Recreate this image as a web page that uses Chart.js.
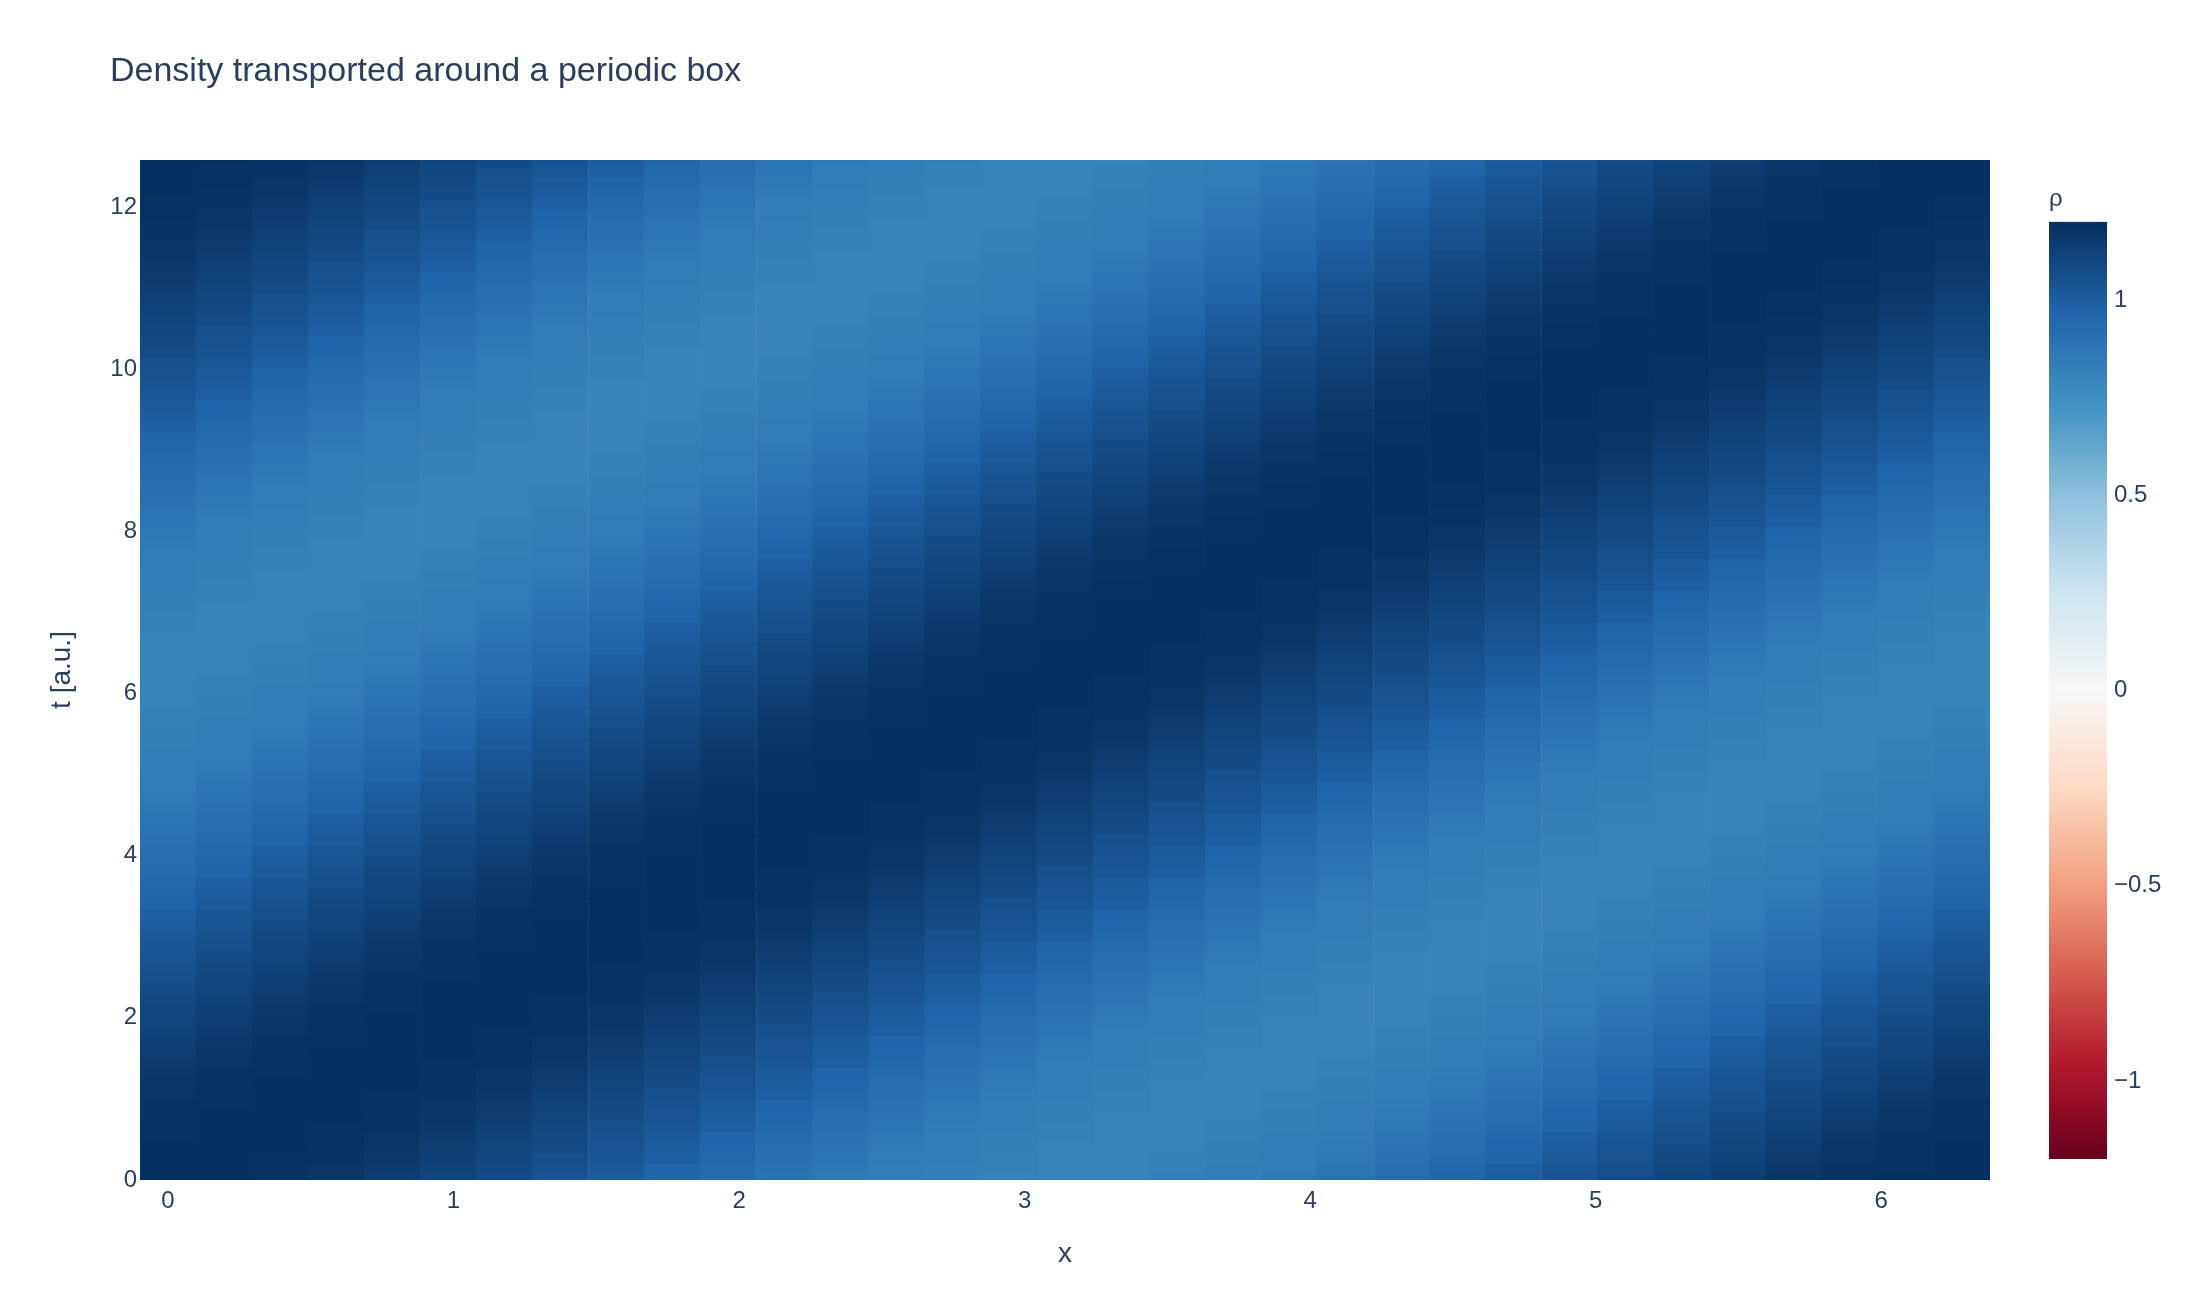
<!DOCTYPE html>
<html>
<head>
<meta charset="utf-8">
<script src="https://cdn.jsdelivr.net/npm/chart.js@4.4.1/dist/chart.umd.min.js"></script>
<style>
html,body{margin:0;padding:0;background:#fff;}
#wrap{position:relative;width:2200px;height:1300px;overflow:hidden;}
#main{position:absolute;left:0;top:0;}
#cb{position:absolute;left:2049px;top:170px;}
</style>
</head>
<body>
<div id="wrap">
<canvas id="main" width="2200" height="1300"></canvas>
<canvas id="cb" width="151" height="1000"></canvas>
</div>
<script>
// ---------- data ----------
const titleText = 'Density transported around a periodic box';
const xTitle = 'x';
const yTitle = 't [a.u.]';
const cbTitle = 'ρ';

// cell centres along x (33 columns)
const xValues = [0,0.196,0.393,0.589,0.785,0.982,1.178,1.374,1.571,1.767,1.963,2.16,2.356,2.553,2.749,2.945,3.142,3.338,3.534,3.731,3.927,4.123,4.32,4.516,4.712,4.909,5.105,5.301,5.498,5.694,5.89,6.087,6.283];

// cell centres along t (97 rows)
const tValues = [0,0.131,0.262,0.393,0.524,0.654,0.785,0.916,1.047,1.178,1.309,1.44,1.571,1.702,1.833,1.963,2.094,2.225,2.356,2.487,2.618,2.749,2.88,3.011,3.142,3.272,3.403,3.534,3.665,3.796,3.927,4.058,4.189,4.32,4.451,4.581,4.712,4.843,4.974,5.105,5.236,5.367,5.498,5.629,5.76,5.89,6.021,6.152,6.283,6.414,6.545,6.676,6.807,6.938,7.069,7.199,7.33,7.461,7.592,7.723,7.854,7.985,8.116,8.247,8.378,8.508,8.639,8.77,8.901,9.032,9.163,9.294,9.425,9.556,9.687,9.817,9.948,10.079,10.21,10.341,10.472,10.603,10.734,10.865,10.996,11.126,11.257,11.388,11.519,11.65,11.781,11.912,12.043,12.174,12.305,12.435,12.566];

// density rho, one row per t value (bottom to top), one entry per x value
const rho = [
[1.2,1.2,1.18,1.17,1.14,1.11,1.08,1.04,1,0.96,0.92,0.89,0.86,0.83,0.82,0.8,0.8,0.8,0.82,0.83,0.86,0.89,0.92,0.96,1,1.04,1.08,1.11,1.14,1.17,1.18,1.2,1.2],
[1.2,1.2,1.19,1.17,1.15,1.12,1.09,1.05,1.01,0.97,0.94,0.9,0.87,0.84,0.82,0.81,0.8,0.8,0.81,0.83,0.85,0.88,0.91,0.95,0.99,1.03,1.06,1.1,1.13,1.16,1.18,1.19,1.2],
[1.2,1.2,1.19,1.18,1.16,1.13,1.1,1.06,1.03,0.99,0.95,0.91,0.88,0.85,0.83,0.81,0.8,0.8,0.81,0.82,0.84,0.87,0.9,0.94,0.97,1.01,1.05,1.09,1.12,1.15,1.17,1.19,1.2],
[1.2,1.2,1.2,1.18,1.17,1.14,1.11,1.08,1.04,1,0.96,0.92,0.89,0.86,0.83,0.82,0.8,0.8,0.8,0.82,0.83,0.86,0.89,0.92,0.96,1,1.04,1.08,1.11,1.14,1.17,1.18,1.2],
[1.19,1.2,1.2,1.19,1.17,1.15,1.12,1.09,1.05,1.01,0.97,0.94,0.9,0.87,0.84,0.82,0.81,0.8,0.8,0.81,0.83,0.85,0.88,0.91,0.95,0.99,1.03,1.06,1.1,1.13,1.16,1.18,1.19],
[1.19,1.2,1.2,1.19,1.18,1.16,1.13,1.1,1.06,1.03,0.99,0.95,0.91,0.88,0.85,0.83,0.81,0.8,0.8,0.81,0.82,0.84,0.87,0.9,0.94,0.97,1.01,1.05,1.09,1.12,1.15,1.17,1.19],
[1.18,1.2,1.2,1.2,1.18,1.17,1.14,1.11,1.08,1.04,1,0.96,0.92,0.89,0.86,0.83,0.82,0.8,0.8,0.8,0.82,0.83,0.86,0.89,0.92,0.96,1,1.04,1.08,1.11,1.14,1.17,1.18],
[1.18,1.19,1.2,1.2,1.19,1.17,1.15,1.12,1.09,1.05,1.01,0.97,0.94,0.9,0.87,0.84,0.82,0.81,0.8,0.8,0.81,0.83,0.85,0.88,0.91,0.95,0.99,1.03,1.06,1.1,1.13,1.16,1.18],
[1.17,1.19,1.2,1.2,1.19,1.18,1.16,1.13,1.1,1.06,1.03,0.99,0.95,0.91,0.88,0.85,0.83,0.81,0.8,0.8,0.81,0.82,0.84,0.87,0.9,0.94,0.97,1.01,1.05,1.09,1.12,1.15,1.17],
[1.17,1.18,1.2,1.2,1.2,1.18,1.17,1.14,1.11,1.08,1.04,1,0.96,0.92,0.89,0.86,0.83,0.82,0.8,0.8,0.8,0.82,0.83,0.86,0.89,0.92,0.96,1,1.04,1.08,1.11,1.14,1.17],
[1.16,1.18,1.19,1.2,1.2,1.19,1.17,1.15,1.12,1.09,1.05,1.01,0.97,0.94,0.9,0.87,0.84,0.82,0.81,0.8,0.8,0.81,0.83,0.85,0.88,0.91,0.95,0.99,1.03,1.06,1.1,1.13,1.16],
[1.15,1.17,1.19,1.2,1.2,1.19,1.18,1.16,1.13,1.1,1.06,1.03,0.99,0.95,0.91,0.88,0.85,0.83,0.81,0.8,0.8,0.81,0.82,0.84,0.87,0.9,0.94,0.97,1.01,1.05,1.09,1.12,1.15],
[1.14,1.17,1.18,1.2,1.2,1.2,1.18,1.17,1.14,1.11,1.08,1.04,1,0.96,0.92,0.89,0.86,0.83,0.82,0.8,0.8,0.8,0.82,0.83,0.86,0.89,0.92,0.96,1,1.04,1.08,1.11,1.14],
[1.13,1.16,1.18,1.19,1.2,1.2,1.19,1.17,1.15,1.12,1.09,1.05,1.01,0.97,0.94,0.9,0.87,0.84,0.82,0.81,0.8,0.8,0.81,0.83,0.85,0.88,0.91,0.95,0.99,1.03,1.06,1.1,1.13],
[1.12,1.15,1.17,1.19,1.2,1.2,1.19,1.18,1.16,1.13,1.1,1.06,1.03,0.99,0.95,0.91,0.88,0.85,0.83,0.81,0.8,0.8,0.81,0.82,0.84,0.87,0.9,0.94,0.97,1.01,1.05,1.09,1.12],
[1.11,1.14,1.17,1.18,1.2,1.2,1.2,1.18,1.17,1.14,1.11,1.08,1.04,1,0.96,0.92,0.89,0.86,0.83,0.82,0.8,0.8,0.8,0.82,0.83,0.86,0.89,0.92,0.96,1,1.04,1.08,1.11],
[1.1,1.13,1.16,1.18,1.19,1.2,1.2,1.19,1.17,1.15,1.12,1.09,1.05,1.01,0.97,0.94,0.9,0.87,0.84,0.82,0.81,0.8,0.8,0.81,0.83,0.85,0.88,0.91,0.95,0.99,1.03,1.06,1.1],
[1.09,1.12,1.15,1.17,1.19,1.2,1.2,1.19,1.18,1.16,1.13,1.1,1.06,1.03,0.99,0.95,0.91,0.88,0.85,0.83,0.81,0.8,0.8,0.81,0.82,0.84,0.87,0.9,0.94,0.97,1.01,1.05,1.09],
[1.08,1.11,1.14,1.17,1.18,1.2,1.2,1.2,1.18,1.17,1.14,1.11,1.08,1.04,1,0.96,0.92,0.89,0.86,0.83,0.82,0.8,0.8,0.8,0.82,0.83,0.86,0.89,0.92,0.96,1,1.04,1.08],
[1.06,1.1,1.13,1.16,1.18,1.19,1.2,1.2,1.19,1.17,1.15,1.12,1.09,1.05,1.01,0.97,0.94,0.9,0.87,0.84,0.82,0.81,0.8,0.8,0.81,0.83,0.85,0.88,0.91,0.95,0.99,1.03,1.06],
[1.05,1.09,1.12,1.15,1.17,1.19,1.2,1.2,1.19,1.18,1.16,1.13,1.1,1.06,1.03,0.99,0.95,0.91,0.88,0.85,0.83,0.81,0.8,0.8,0.81,0.82,0.84,0.87,0.9,0.94,0.97,1.01,1.05],
[1.04,1.08,1.11,1.14,1.17,1.18,1.2,1.2,1.2,1.18,1.17,1.14,1.11,1.08,1.04,1,0.96,0.92,0.89,0.86,0.83,0.82,0.8,0.8,0.8,0.82,0.83,0.86,0.89,0.92,0.96,1,1.04],
[1.03,1.06,1.1,1.13,1.16,1.18,1.19,1.2,1.2,1.19,1.17,1.15,1.12,1.09,1.05,1.01,0.97,0.94,0.9,0.87,0.84,0.82,0.81,0.8,0.8,0.81,0.83,0.85,0.88,0.91,0.95,0.99,1.03],
[1.01,1.05,1.09,1.12,1.15,1.17,1.19,1.2,1.2,1.19,1.18,1.16,1.13,1.1,1.06,1.03,0.99,0.95,0.91,0.88,0.85,0.83,0.81,0.8,0.8,0.81,0.82,0.84,0.87,0.9,0.94,0.97,1.01],
[1,1.04,1.08,1.11,1.14,1.17,1.18,1.2,1.2,1.2,1.18,1.17,1.14,1.11,1.08,1.04,1,0.96,0.92,0.89,0.86,0.83,0.82,0.8,0.8,0.8,0.82,0.83,0.86,0.89,0.92,0.96,1],
[0.99,1.03,1.06,1.1,1.13,1.16,1.18,1.19,1.2,1.2,1.19,1.17,1.15,1.12,1.09,1.05,1.01,0.97,0.94,0.9,0.87,0.84,0.82,0.81,0.8,0.8,0.81,0.83,0.85,0.88,0.91,0.95,0.99],
[0.97,1.01,1.05,1.09,1.12,1.15,1.17,1.19,1.2,1.2,1.19,1.18,1.16,1.13,1.1,1.06,1.03,0.99,0.95,0.91,0.88,0.85,0.83,0.81,0.8,0.8,0.81,0.82,0.84,0.87,0.9,0.94,0.97],
[0.96,1,1.04,1.08,1.11,1.14,1.17,1.18,1.2,1.2,1.2,1.18,1.17,1.14,1.11,1.08,1.04,1,0.96,0.92,0.89,0.86,0.83,0.82,0.8,0.8,0.8,0.82,0.83,0.86,0.89,0.92,0.96],
[0.95,0.99,1.03,1.06,1.1,1.13,1.16,1.18,1.19,1.2,1.2,1.19,1.17,1.15,1.12,1.09,1.05,1.01,0.97,0.94,0.9,0.87,0.84,0.82,0.81,0.8,0.8,0.81,0.83,0.85,0.88,0.91,0.95],
[0.94,0.97,1.01,1.05,1.09,1.12,1.15,1.17,1.19,1.2,1.2,1.19,1.18,1.16,1.13,1.1,1.06,1.03,0.99,0.95,0.91,0.88,0.85,0.83,0.81,0.8,0.8,0.81,0.82,0.84,0.87,0.9,0.94],
[0.92,0.96,1,1.04,1.08,1.11,1.14,1.17,1.18,1.2,1.2,1.2,1.18,1.17,1.14,1.11,1.08,1.04,1,0.96,0.92,0.89,0.86,0.83,0.82,0.8,0.8,0.8,0.82,0.83,0.86,0.89,0.92],
[0.91,0.95,0.99,1.03,1.06,1.1,1.13,1.16,1.18,1.19,1.2,1.2,1.19,1.17,1.15,1.12,1.09,1.05,1.01,0.97,0.94,0.9,0.87,0.84,0.82,0.81,0.8,0.8,0.81,0.83,0.85,0.88,0.91],
[0.9,0.94,0.97,1.01,1.05,1.09,1.12,1.15,1.17,1.19,1.2,1.2,1.19,1.18,1.16,1.13,1.1,1.06,1.03,0.99,0.95,0.91,0.88,0.85,0.83,0.81,0.8,0.8,0.81,0.82,0.84,0.87,0.9],
[0.89,0.92,0.96,1,1.04,1.08,1.11,1.14,1.17,1.18,1.2,1.2,1.2,1.18,1.17,1.14,1.11,1.08,1.04,1,0.96,0.92,0.89,0.86,0.83,0.82,0.8,0.8,0.8,0.82,0.83,0.86,0.89],
[0.88,0.91,0.95,0.99,1.03,1.06,1.1,1.13,1.16,1.18,1.19,1.2,1.2,1.19,1.17,1.15,1.12,1.09,1.05,1.01,0.97,0.94,0.9,0.87,0.84,0.82,0.81,0.8,0.8,0.81,0.83,0.85,0.88],
[0.87,0.9,0.94,0.97,1.01,1.05,1.09,1.12,1.15,1.17,1.19,1.2,1.2,1.19,1.18,1.16,1.13,1.1,1.06,1.03,0.99,0.95,0.91,0.88,0.85,0.83,0.81,0.8,0.8,0.81,0.82,0.84,0.87],
[0.86,0.89,0.92,0.96,1,1.04,1.08,1.11,1.14,1.17,1.18,1.2,1.2,1.2,1.18,1.17,1.14,1.11,1.08,1.04,1,0.96,0.92,0.89,0.86,0.83,0.82,0.8,0.8,0.8,0.82,0.83,0.86],
[0.85,0.88,0.91,0.95,0.99,1.03,1.06,1.1,1.13,1.16,1.18,1.19,1.2,1.2,1.19,1.17,1.15,1.12,1.09,1.05,1.01,0.97,0.94,0.9,0.87,0.84,0.82,0.81,0.8,0.8,0.81,0.83,0.85],
[0.84,0.87,0.9,0.94,0.97,1.01,1.05,1.09,1.12,1.15,1.17,1.19,1.2,1.2,1.19,1.18,1.16,1.13,1.1,1.06,1.03,0.99,0.95,0.91,0.88,0.85,0.83,0.81,0.8,0.8,0.81,0.82,0.84],
[0.83,0.86,0.89,0.92,0.96,1,1.04,1.08,1.11,1.14,1.17,1.18,1.2,1.2,1.2,1.18,1.17,1.14,1.11,1.08,1.04,1,0.96,0.92,0.89,0.86,0.83,0.82,0.8,0.8,0.8,0.82,0.83],
[0.83,0.85,0.88,0.91,0.95,0.99,1.03,1.06,1.1,1.13,1.16,1.18,1.19,1.2,1.2,1.19,1.17,1.15,1.12,1.09,1.05,1.01,0.97,0.94,0.9,0.87,0.84,0.82,0.81,0.8,0.8,0.81,0.83],
[0.82,0.84,0.87,0.9,0.94,0.97,1.01,1.05,1.09,1.12,1.15,1.17,1.19,1.2,1.2,1.19,1.18,1.16,1.13,1.1,1.06,1.03,0.99,0.95,0.91,0.88,0.85,0.83,0.81,0.8,0.8,0.81,0.82],
[0.82,0.83,0.86,0.89,0.92,0.96,1,1.04,1.08,1.11,1.14,1.17,1.18,1.2,1.2,1.2,1.18,1.17,1.14,1.11,1.08,1.04,1,0.96,0.92,0.89,0.86,0.83,0.82,0.8,0.8,0.8,0.82],
[0.81,0.83,0.85,0.88,0.91,0.95,0.99,1.03,1.06,1.1,1.13,1.16,1.18,1.19,1.2,1.2,1.19,1.17,1.15,1.12,1.09,1.05,1.01,0.97,0.94,0.9,0.87,0.84,0.82,0.81,0.8,0.8,0.81],
[0.81,0.82,0.84,0.87,0.9,0.94,0.97,1.01,1.05,1.09,1.12,1.15,1.17,1.19,1.2,1.2,1.19,1.18,1.16,1.13,1.1,1.06,1.03,0.99,0.95,0.91,0.88,0.85,0.83,0.81,0.8,0.8,0.81],
[0.8,0.82,0.83,0.86,0.89,0.92,0.96,1,1.04,1.08,1.11,1.14,1.17,1.18,1.2,1.2,1.2,1.18,1.17,1.14,1.11,1.08,1.04,1,0.96,0.92,0.89,0.86,0.83,0.82,0.8,0.8,0.8],
[0.8,0.81,0.83,0.85,0.88,0.91,0.95,0.99,1.03,1.06,1.1,1.13,1.16,1.18,1.19,1.2,1.2,1.19,1.17,1.15,1.12,1.09,1.05,1.01,0.97,0.94,0.9,0.87,0.84,0.82,0.81,0.8,0.8],
[0.8,0.81,0.82,0.84,0.87,0.9,0.94,0.97,1.01,1.05,1.09,1.12,1.15,1.17,1.19,1.2,1.2,1.19,1.18,1.16,1.13,1.1,1.06,1.03,0.99,0.95,0.91,0.88,0.85,0.83,0.81,0.8,0.8],
[0.8,0.8,0.82,0.83,0.86,0.89,0.92,0.96,1,1.04,1.08,1.11,1.14,1.17,1.18,1.2,1.2,1.2,1.18,1.17,1.14,1.11,1.08,1.04,1,0.96,0.92,0.89,0.86,0.83,0.82,0.8,0.8],
[0.8,0.8,0.81,0.83,0.85,0.88,0.91,0.95,0.99,1.03,1.06,1.1,1.13,1.16,1.18,1.19,1.2,1.2,1.19,1.17,1.15,1.12,1.09,1.05,1.01,0.97,0.94,0.9,0.87,0.84,0.82,0.81,0.8],
[0.8,0.8,0.81,0.82,0.84,0.87,0.9,0.94,0.97,1.01,1.05,1.09,1.12,1.15,1.17,1.19,1.2,1.2,1.19,1.18,1.16,1.13,1.1,1.06,1.03,0.99,0.95,0.91,0.88,0.85,0.83,0.81,0.8],
[0.8,0.8,0.8,0.82,0.83,0.86,0.89,0.92,0.96,1,1.04,1.08,1.11,1.14,1.17,1.18,1.2,1.2,1.2,1.18,1.17,1.14,1.11,1.08,1.04,1,0.96,0.92,0.89,0.86,0.83,0.82,0.8],
[0.81,0.8,0.8,0.81,0.83,0.85,0.88,0.91,0.95,0.99,1.03,1.06,1.1,1.13,1.16,1.18,1.19,1.2,1.2,1.19,1.17,1.15,1.12,1.09,1.05,1.01,0.97,0.94,0.9,0.87,0.84,0.82,0.81],
[0.81,0.8,0.8,0.81,0.82,0.84,0.87,0.9,0.94,0.97,1.01,1.05,1.09,1.12,1.15,1.17,1.19,1.2,1.2,1.19,1.18,1.16,1.13,1.1,1.06,1.03,0.99,0.95,0.91,0.88,0.85,0.83,0.81],
[0.82,0.8,0.8,0.8,0.82,0.83,0.86,0.89,0.92,0.96,1,1.04,1.08,1.11,1.14,1.17,1.18,1.2,1.2,1.2,1.18,1.17,1.14,1.11,1.08,1.04,1,0.96,0.92,0.89,0.86,0.83,0.82],
[0.82,0.81,0.8,0.8,0.81,0.83,0.85,0.88,0.91,0.95,0.99,1.03,1.06,1.1,1.13,1.16,1.18,1.19,1.2,1.2,1.19,1.17,1.15,1.12,1.09,1.05,1.01,0.97,0.94,0.9,0.87,0.84,0.82],
[0.83,0.81,0.8,0.8,0.81,0.82,0.84,0.87,0.9,0.94,0.97,1.01,1.05,1.09,1.12,1.15,1.17,1.19,1.2,1.2,1.19,1.18,1.16,1.13,1.1,1.06,1.03,0.99,0.95,0.91,0.88,0.85,0.83],
[0.83,0.82,0.8,0.8,0.8,0.82,0.83,0.86,0.89,0.92,0.96,1,1.04,1.08,1.11,1.14,1.17,1.18,1.2,1.2,1.2,1.18,1.17,1.14,1.11,1.08,1.04,1,0.96,0.92,0.89,0.86,0.83],
[0.84,0.82,0.81,0.8,0.8,0.81,0.83,0.85,0.88,0.91,0.95,0.99,1.03,1.06,1.1,1.13,1.16,1.18,1.19,1.2,1.2,1.19,1.17,1.15,1.12,1.09,1.05,1.01,0.97,0.94,0.9,0.87,0.84],
[0.85,0.83,0.81,0.8,0.8,0.81,0.82,0.84,0.87,0.9,0.94,0.97,1.01,1.05,1.09,1.12,1.15,1.17,1.19,1.2,1.2,1.19,1.18,1.16,1.13,1.1,1.06,1.03,0.99,0.95,0.91,0.88,0.85],
[0.86,0.83,0.82,0.8,0.8,0.8,0.82,0.83,0.86,0.89,0.92,0.96,1,1.04,1.08,1.11,1.14,1.17,1.18,1.2,1.2,1.2,1.18,1.17,1.14,1.11,1.08,1.04,1,0.96,0.92,0.89,0.86],
[0.87,0.84,0.82,0.81,0.8,0.8,0.81,0.83,0.85,0.88,0.91,0.95,0.99,1.03,1.06,1.1,1.13,1.16,1.18,1.19,1.2,1.2,1.19,1.17,1.15,1.12,1.09,1.05,1.01,0.97,0.94,0.9,0.87],
[0.88,0.85,0.83,0.81,0.8,0.8,0.81,0.82,0.84,0.87,0.9,0.94,0.97,1.01,1.05,1.09,1.12,1.15,1.17,1.19,1.2,1.2,1.19,1.18,1.16,1.13,1.1,1.06,1.03,0.99,0.95,0.91,0.88],
[0.89,0.86,0.83,0.82,0.8,0.8,0.8,0.82,0.83,0.86,0.89,0.92,0.96,1,1.04,1.08,1.11,1.14,1.17,1.18,1.2,1.2,1.2,1.18,1.17,1.14,1.11,1.08,1.04,1,0.96,0.92,0.89],
[0.9,0.87,0.84,0.82,0.81,0.8,0.8,0.81,0.83,0.85,0.88,0.91,0.95,0.99,1.03,1.06,1.1,1.13,1.16,1.18,1.19,1.2,1.2,1.19,1.17,1.15,1.12,1.09,1.05,1.01,0.97,0.94,0.9],
[0.91,0.88,0.85,0.83,0.81,0.8,0.8,0.81,0.82,0.84,0.87,0.9,0.94,0.97,1.01,1.05,1.09,1.12,1.15,1.17,1.19,1.2,1.2,1.19,1.18,1.16,1.13,1.1,1.06,1.03,0.99,0.95,0.91],
[0.92,0.89,0.86,0.83,0.82,0.8,0.8,0.8,0.82,0.83,0.86,0.89,0.92,0.96,1,1.04,1.08,1.11,1.14,1.17,1.18,1.2,1.2,1.2,1.18,1.17,1.14,1.11,1.08,1.04,1,0.96,0.92],
[0.94,0.9,0.87,0.84,0.82,0.81,0.8,0.8,0.81,0.83,0.85,0.88,0.91,0.95,0.99,1.03,1.06,1.1,1.13,1.16,1.18,1.19,1.2,1.2,1.19,1.17,1.15,1.12,1.09,1.05,1.01,0.97,0.94],
[0.95,0.91,0.88,0.85,0.83,0.81,0.8,0.8,0.81,0.82,0.84,0.87,0.9,0.94,0.97,1.01,1.05,1.09,1.12,1.15,1.17,1.19,1.2,1.2,1.19,1.18,1.16,1.13,1.1,1.06,1.03,0.99,0.95],
[0.96,0.92,0.89,0.86,0.83,0.82,0.8,0.8,0.8,0.82,0.83,0.86,0.89,0.92,0.96,1,1.04,1.08,1.11,1.14,1.17,1.18,1.2,1.2,1.2,1.18,1.17,1.14,1.11,1.08,1.04,1,0.96],
[0.97,0.94,0.9,0.87,0.84,0.82,0.81,0.8,0.8,0.81,0.83,0.85,0.88,0.91,0.95,0.99,1.03,1.06,1.1,1.13,1.16,1.18,1.19,1.2,1.2,1.19,1.17,1.15,1.12,1.09,1.05,1.01,0.97],
[0.99,0.95,0.91,0.88,0.85,0.83,0.81,0.8,0.8,0.81,0.82,0.84,0.87,0.9,0.94,0.97,1.01,1.05,1.09,1.12,1.15,1.17,1.19,1.2,1.2,1.19,1.18,1.16,1.13,1.1,1.06,1.03,0.99],
[1,0.96,0.92,0.89,0.86,0.83,0.82,0.8,0.8,0.8,0.82,0.83,0.86,0.89,0.92,0.96,1,1.04,1.08,1.11,1.14,1.17,1.18,1.2,1.2,1.2,1.18,1.17,1.14,1.11,1.08,1.04,1],
[1.01,0.97,0.94,0.9,0.87,0.84,0.82,0.81,0.8,0.8,0.81,0.83,0.85,0.88,0.91,0.95,0.99,1.03,1.06,1.1,1.13,1.16,1.18,1.19,1.2,1.2,1.19,1.17,1.15,1.12,1.09,1.05,1.01],
[1.03,0.99,0.95,0.91,0.88,0.85,0.83,0.81,0.8,0.8,0.81,0.82,0.84,0.87,0.9,0.94,0.97,1.01,1.05,1.09,1.12,1.15,1.17,1.19,1.2,1.2,1.19,1.18,1.16,1.13,1.1,1.06,1.03],
[1.04,1,0.96,0.92,0.89,0.86,0.83,0.82,0.8,0.8,0.8,0.82,0.83,0.86,0.89,0.92,0.96,1,1.04,1.08,1.11,1.14,1.17,1.18,1.2,1.2,1.2,1.18,1.17,1.14,1.11,1.08,1.04],
[1.05,1.01,0.97,0.94,0.9,0.87,0.84,0.82,0.81,0.8,0.8,0.81,0.83,0.85,0.88,0.91,0.95,0.99,1.03,1.06,1.1,1.13,1.16,1.18,1.19,1.2,1.2,1.19,1.17,1.15,1.12,1.09,1.05],
[1.06,1.03,0.99,0.95,0.91,0.88,0.85,0.83,0.81,0.8,0.8,0.81,0.82,0.84,0.87,0.9,0.94,0.97,1.01,1.05,1.09,1.12,1.15,1.17,1.19,1.2,1.2,1.19,1.18,1.16,1.13,1.1,1.06],
[1.08,1.04,1,0.96,0.92,0.89,0.86,0.83,0.82,0.8,0.8,0.8,0.82,0.83,0.86,0.89,0.92,0.96,1,1.04,1.08,1.11,1.14,1.17,1.18,1.2,1.2,1.2,1.18,1.17,1.14,1.11,1.08],
[1.09,1.05,1.01,0.97,0.94,0.9,0.87,0.84,0.82,0.81,0.8,0.8,0.81,0.83,0.85,0.88,0.91,0.95,0.99,1.03,1.06,1.1,1.13,1.16,1.18,1.19,1.2,1.2,1.19,1.17,1.15,1.12,1.09],
[1.1,1.06,1.03,0.99,0.95,0.91,0.88,0.85,0.83,0.81,0.8,0.8,0.81,0.82,0.84,0.87,0.9,0.94,0.97,1.01,1.05,1.09,1.12,1.15,1.17,1.19,1.2,1.2,1.19,1.18,1.16,1.13,1.1],
[1.11,1.08,1.04,1,0.96,0.92,0.89,0.86,0.83,0.82,0.8,0.8,0.8,0.82,0.83,0.86,0.89,0.92,0.96,1,1.04,1.08,1.11,1.14,1.17,1.18,1.2,1.2,1.2,1.18,1.17,1.14,1.11],
[1.12,1.09,1.05,1.01,0.97,0.94,0.9,0.87,0.84,0.82,0.81,0.8,0.8,0.81,0.83,0.85,0.88,0.91,0.95,0.99,1.03,1.06,1.1,1.13,1.16,1.18,1.19,1.2,1.2,1.19,1.17,1.15,1.12],
[1.13,1.1,1.06,1.03,0.99,0.95,0.91,0.88,0.85,0.83,0.81,0.8,0.8,0.81,0.82,0.84,0.87,0.9,0.94,0.97,1.01,1.05,1.09,1.12,1.15,1.17,1.19,1.2,1.2,1.19,1.18,1.16,1.13],
[1.14,1.11,1.08,1.04,1,0.96,0.92,0.89,0.86,0.83,0.82,0.8,0.8,0.8,0.82,0.83,0.86,0.89,0.92,0.96,1,1.04,1.08,1.11,1.14,1.17,1.18,1.2,1.2,1.2,1.18,1.17,1.14],
[1.15,1.12,1.09,1.05,1.01,0.97,0.94,0.9,0.87,0.84,0.82,0.81,0.8,0.8,0.81,0.83,0.85,0.88,0.91,0.95,0.99,1.03,1.06,1.1,1.13,1.16,1.18,1.19,1.2,1.2,1.19,1.17,1.15],
[1.16,1.13,1.1,1.06,1.03,0.99,0.95,0.91,0.88,0.85,0.83,0.81,0.8,0.8,0.81,0.82,0.84,0.87,0.9,0.94,0.97,1.01,1.05,1.09,1.12,1.15,1.17,1.19,1.2,1.2,1.19,1.18,1.16],
[1.17,1.14,1.11,1.08,1.04,1,0.96,0.92,0.89,0.86,0.83,0.82,0.8,0.8,0.8,0.82,0.83,0.86,0.89,0.92,0.96,1,1.04,1.08,1.11,1.14,1.17,1.18,1.2,1.2,1.2,1.18,1.17],
[1.17,1.15,1.12,1.09,1.05,1.01,0.97,0.94,0.9,0.87,0.84,0.82,0.81,0.8,0.8,0.81,0.83,0.85,0.88,0.91,0.95,0.99,1.03,1.06,1.1,1.13,1.16,1.18,1.19,1.2,1.2,1.19,1.17],
[1.18,1.16,1.13,1.1,1.06,1.03,0.99,0.95,0.91,0.88,0.85,0.83,0.81,0.8,0.8,0.81,0.82,0.84,0.87,0.9,0.94,0.97,1.01,1.05,1.09,1.12,1.15,1.17,1.19,1.2,1.2,1.19,1.18],
[1.18,1.17,1.14,1.11,1.08,1.04,1,0.96,0.92,0.89,0.86,0.83,0.82,0.8,0.8,0.8,0.82,0.83,0.86,0.89,0.92,0.96,1,1.04,1.08,1.11,1.14,1.17,1.18,1.2,1.2,1.2,1.18],
[1.19,1.17,1.15,1.12,1.09,1.05,1.01,0.97,0.94,0.9,0.87,0.84,0.82,0.81,0.8,0.8,0.81,0.83,0.85,0.88,0.91,0.95,0.99,1.03,1.06,1.1,1.13,1.16,1.18,1.19,1.2,1.2,1.19],
[1.19,1.18,1.16,1.13,1.1,1.06,1.03,0.99,0.95,0.91,0.88,0.85,0.83,0.81,0.8,0.8,0.81,0.82,0.84,0.87,0.9,0.94,0.97,1.01,1.05,1.09,1.12,1.15,1.17,1.19,1.2,1.2,1.19],
[1.2,1.18,1.17,1.14,1.11,1.08,1.04,1,0.96,0.92,0.89,0.86,0.83,0.82,0.8,0.8,0.8,0.82,0.83,0.86,0.89,0.92,0.96,1,1.04,1.08,1.11,1.14,1.17,1.18,1.2,1.2,1.2],
[1.2,1.19,1.17,1.15,1.12,1.09,1.05,1.01,0.97,0.94,0.9,0.87,0.84,0.82,0.81,0.8,0.8,0.81,0.83,0.85,0.88,0.91,0.95,0.99,1.03,1.06,1.1,1.13,1.16,1.18,1.19,1.2,1.2],
[1.2,1.19,1.18,1.16,1.13,1.1,1.06,1.03,0.99,0.95,0.91,0.88,0.85,0.83,0.81,0.8,0.8,0.81,0.82,0.84,0.87,0.9,0.94,0.97,1.01,1.05,1.09,1.12,1.15,1.17,1.19,1.2,1.2],
[1.2,1.2,1.18,1.17,1.14,1.11,1.08,1.04,1,0.96,0.92,0.89,0.86,0.83,0.82,0.8,0.8,0.8,0.82,0.83,0.86,0.89,0.92,0.96,1,1.04,1.08,1.11,1.14,1.17,1.18,1.2,1.2]
];

const xTickValues = [0,1,2,3,4,5,6];
const tTickValues = [0,2,4,6,8,10,12];
const cbTickValues = [-1,-0.5,0,0.5,1];
const cbTickLabels = ['\u22121','\u22120.5','0','0.5','1'];
const zRange = [-1.2, 1.2];
const tRange = [0, 12.58];

// RdBu colour scale, bottom (low) to top (high)
const rdbu = [[103,0,31],[178,24,43],[214,96,77],[244,165,130],[253,219,199],[247,247,247],[209,229,240],[146,197,222],[67,147,195],[33,102,172],[5,48,97]];

// ---------- helpers ----------
const FONT = '"Liberation Sans", Arial, Helvetica, sans-serif';
const INK = '#2a3f5f';
Chart.defaults.font.family = FONT;
Chart.defaults.font.size = 24;
Chart.defaults.color = INK;

function colorFor(v) {
  let n = (v - zRange[0]) / (zRange[1] - zRange[0]);
  n = Math.max(0, Math.min(1, n));
  const p = n * (rdbu.length - 1);
  const i = Math.min(Math.floor(p), rdbu.length - 2);
  const f = p - i;
  const a = rdbu[i], b = rdbu[i + 1];
  const c = k => Math.round(a[k] + (b[k] - a[k]) * f);
  return 'rgb(' + c(0) + ',' + c(1) + ',' + c(2) + ')';
}

const dx = xValues[1] - xValues[0];
const xMin = xValues[0] - dx / 2;
const xMax = xValues[xValues.length - 1] + dx / 2;

const datasets = tValues.map((t, i) => {
  const lo = i === 0 ? tRange[0] : (tValues[i - 1] + t) / 2 - 0.01;
  const hi = i === tValues.length - 1 ? tRange[1] : (t + tValues[i + 1]) / 2;
  return {
    data: xValues.map(x => ({ x: x, y: [lo, hi] })),
    backgroundColor: rho[i].map(colorFor),
    borderWidth: 0,
    grouped: false,
    barPercentage: 1,
    categoryPercentage: 1,
    clip: 0
  };
});

const noEdgePadding = s => { s.paddingTop = 0; s.paddingBottom = 0; };

const mainTitlePlugin = {
  id: 'mainTitle',
  afterDraw(chart) {
    const c = chart.ctx;
    c.save();
    c.font = '34px ' + FONT;
    c.fillStyle = INK;
    c.textAlign = 'left';
    c.textBaseline = 'alphabetic';
    c.fillText(titleText, 110, 81);
    c.restore();
  }
};

new Chart(document.getElementById('main'), {
  type: 'bar',
  data: { datasets: datasets },
  plugins: [mainTitlePlugin],
  options: {
    responsive: false,
    animation: false,
    events: [],
    layout: { padding: { left: 0, top: 160, right: 210, bottom: 0 } },
    plugins: { legend: { display: false }, tooltip: { enabled: false }, title: { display: false } },
    scales: {
      x: {
        type: 'linear', min: xMin, max: xMax, offset: false,
        grid: { display: false, drawTicks: false }, border: { display: false },
        ticks: { font: { size: 24 }, color: INK, padding: 7, maxRotation: 0, autoSkip: false },
        afterBuildTicks: s => { s.ticks = xTickValues.map(v => ({ value: v })); },
        afterFit: s => { s.height = 120; },
        title: { display: true, text: xTitle, color: INK, font: { size: 28 }, padding: { top: 0, bottom: 29 } }
      },
      y: {
        type: 'linear', min: tRange[0], max: tRange[1],
        grid: { display: false, drawTicks: false }, border: { display: false },
        ticks: { font: { size: 24 }, color: INK, padding: 3, autoSkip: false },
        afterBuildTicks: s => { s.ticks = tTickValues.map(v => ({ value: v })); },
        afterFit: s => { s.width = 140; noEdgePadding(s); },
        title: { display: true, text: yTitle, color: INK, font: { size: 28 }, padding: { top: 45, bottom: 0 } }
      }
    }
  }
});

// ---------- colour bar ----------
new Chart(document.getElementById('cb'), {
  type: 'bar',
  data: {
    labels: [''],
    datasets: [{
      data: [[zRange[0], zRange[1]]],
      borderWidth: 0,
      barPercentage: 1,
      categoryPercentage: 1,
      clip: 0,
      backgroundColor: ctx => {
        const ch = ctx.chart;
        if (!ch.chartArea) return 'rgba(0,0,0,0)';
        const ys = ch.scales.y;
        const g = ch.ctx.createLinearGradient(0, ys.getPixelForValue(zRange[0]), 0, ys.getPixelForValue(zRange[1]));
        rdbu.forEach((c, i) => g.addColorStop(i / (rdbu.length - 1), 'rgb(' + c.join(',') + ')'));
        return g;
      }
    }]
  },
  options: {
    responsive: false,
    animation: false,
    events: [],
    layout: { padding: { left: 0, top: 0, right: 0, bottom: 11 } },
    plugins: {
      legend: { display: false },
      tooltip: { enabled: false },
      title: { display: true, text: cbTitle, align: 'start', color: INK, font: { size: 24, weight: 'normal' }, padding: { top: 15, bottom: 8 } }
    },
    scales: {
      x: { display: false },
      y: {
        position: 'right', min: zRange[0], max: zRange[1],
        grid: { display: false, drawTicks: false }, border: { display: false },
        ticks: {
          font: { size: 24 }, color: INK, padding: 7, autoSkip: false,
          callback: (v) => { const k = cbTickValues.indexOf(v); return k >= 0 ? cbTickLabels[k] : ''; }
        },
        afterBuildTicks: s => { s.ticks = cbTickValues.map(v => ({ value: v })); },
        afterFit: s => { s.width = 93; noEdgePadding(s); }
      }
    }
  }
});
</script>
</body>
</html>
